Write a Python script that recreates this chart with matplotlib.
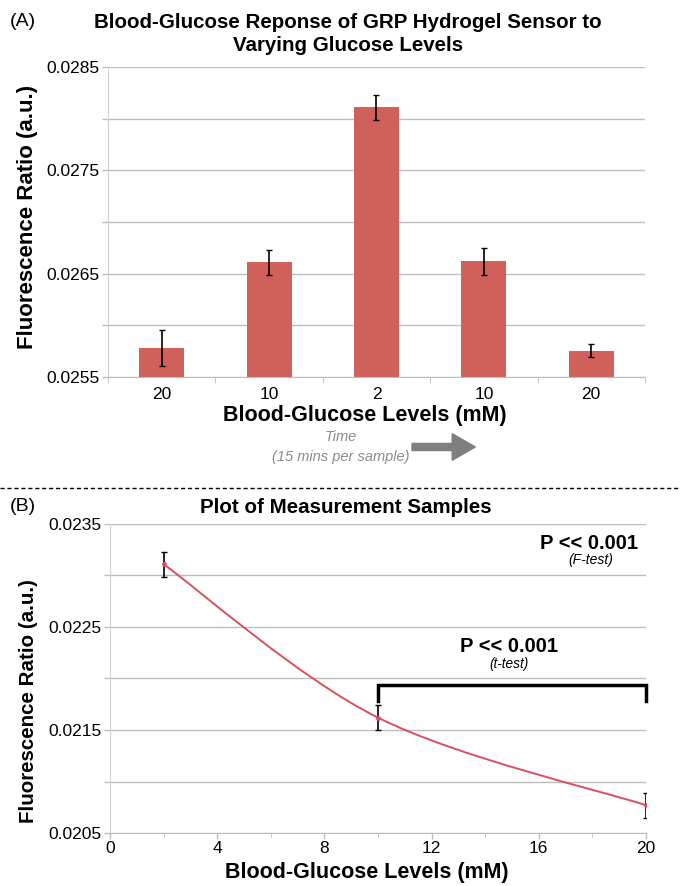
import numpy as np
import matplotlib.pyplot as plt
from matplotlib.path import Path
from matplotlib.patches import PathPatch, FancyArrow
from matplotlib.lines import Line2D

plt.rcParams['font.family'] = ['Liberation Sans', 'DejaVu Sans']

# panel A data
bar_labels = ['20', '10', '2', '10', '20']
bar_values = [0.02578, 0.02661, 0.02811, 0.02662, 0.025755]
bar_errors = [0.00017, 0.00012, 0.00012, 0.00013, 0.00006]

# panel B data
glucose = [2, 10, 20]
ratio = [0.02311, 0.02162, 0.02077]
ratio_err = [0.00012, 0.00012, 0.00012]

BAR = '#d0605a'
LINE = '#d9505e'
GRID = '#bdbdbd'

fig = plt.figure(figsize=(6.81, 8.86), dpi=100)


def style_axes(ax):
    ax.grid(axis='y', color=GRID, lw=1.0)
    ax.set_axisbelow(True)
    for s in ['top', 'right']:
        ax.spines[s].set_visible(False)
    ax.spines['left'].set_color('#d0d0d0')
    ax.spines['bottom'].set_color(GRID)
    ax.tick_params(axis='both', colors=GRID, length=4, width=1,
                   labelcolor='black', labelsize=12.5, pad=2)
    ax.tick_params(axis='y', which='minor', colors=GRID, length=4, width=1)


# ---- (A) bar chart ----
ax1 = fig.add_axes([0.1586, 0.5745, 0.7884, 0.3499])
xpos = np.arange(len(bar_values))
ax1.bar(xpos, bar_values, width=0.42, color=BAR,
        yerr=bar_errors, error_kw=dict(ecolor='black', elinewidth=1.2, capsize=2, capthick=1))
ax1.set_xlim(-0.5, 4.5)
ax1.set_ylim(0.0255, 0.0285)
ax1.set_yticks([0.0255, 0.0265, 0.0275, 0.0285])
ax1.set_yticks(np.arange(0.0255, 0.02851, 0.0005), minor=True)
ax1.set_yticklabels(['0.0255', '0.0265', '0.0275', '0.0285'])
ax1.set_xticks(xpos)
ax1.set_xticklabels(bar_labels)
ax1.set_xticks(np.arange(-0.5, 4.6, 1.0), minor=True)
style_axes(ax1)
ax1.grid(axis='y', which='minor', color=GRID, lw=1.0)
ax1.tick_params(axis='x', which='major', length=0, pad=7)
ax1.tick_params(axis='x', which='minor', colors=GRID, length=4)
ax1.set_xlabel('Blood-Glucose Levels (mM)', fontsize=15.5, fontweight='bold')
ax1.xaxis.set_label_coords(0.479, -0.09)
ax1.set_ylabel('Fluorescence Ratio (a.u.)', fontsize=16, fontweight='bold')
ax1.yaxis.set_label_coords(-0.13, 0.516)
fig.text(0.511, 0.985, 'Blood-Glucose Reponse of GRP Hydrogel Sensor to\nVarying Glucose Levels',
         ha='center', va='top', fontsize=14.8, fontweight='bold', linespacing=1.25)
fig.text(0.015, 0.985, '(A)', ha='left', va='top', fontsize=14)

# time note + arrow
fig.text(0.50, 0.507, 'Time', ha='center', va='center', fontsize=10.5, style='italic', color='#8a8a8a')
fig.text(0.50, 0.484, '(15 mins per sample)', ha='center', va='center', fontsize=10.5,
         style='italic', color='#8a8a8a')
fig.patches.append(FancyArrow(0.605, 0.4955, 0.093, 0, width=0.008, head_width=0.03,
                              head_length=0.034, length_includes_head=True,
                              color='#7f7f7f', transform=fig.transFigure, figure=fig))

# dashed separator
fig.add_artist(Line2D([0.0, 1.0], [0.4495, 0.4495], color='black', lw=1.0,
                      linestyle=(0, (3, 2)), transform=fig.transFigure))

# ---- (B) line chart ----
ax2 = fig.add_axes([0.1615, 0.0598, 0.7871, 0.3488])
ax2.errorbar(glucose, ratio, yerr=ratio_err, fmt='none', ecolor='black',
             elinewidth=1.2, capsize=2, capthick=1, zorder=3)

# smooth curve through the points (Catmull-Rom as Bezier)
pts = np.column_stack([glucose, ratio]).astype(float)
verts = [pts[0]]
codes = [Path.MOVETO]
n = len(pts)
for i in range(n - 1):
    p0 = pts[max(i - 1, 0)]
    p1 = pts[i]
    p2 = pts[i + 1]
    p3 = pts[min(i + 2, n - 1)]
    c1 = p1 + (p2 - p0) / 6.0
    c2 = p2 - (p3 - p1) / 6.0
    verts += [c1, c2, p2]
    codes += [Path.CURVE4] * 3
ax2.add_patch(PathPatch(Path(verts, codes), fill=False, edgecolor=LINE, lw=1.4, zorder=2))
ax2.plot(glucose, ratio, 'o', ms=2.5, color=LINE, zorder=4)

ax2.set_xlim(0, 20)
ax2.set_ylim(0.0205, 0.0235)
ax2.set_xticks([0, 4, 8, 12, 16, 20])
ax2.set_xticks(np.arange(0, 21, 2), minor=True)
ax2.set_yticks([0.0205, 0.0215, 0.0225, 0.0235])
ax2.set_yticklabels(['0.0205', '0.0215', '0.0225', '0.0235'])
ax2.set_yticks(np.arange(0.0205, 0.02351, 0.0005), minor=True)
style_axes(ax2)
ax2.grid(axis='y', which='minor', color=GRID, lw=1.0)
ax2.tick_params(axis='x', which='minor', colors=GRID, length=3)
ax2.set_xlabel('Blood-Glucose Levels (mM)', fontsize=15.5, fontweight='bold')
ax2.xaxis.set_label_coords(0.48, -0.094)
ax2.set_ylabel('Fluorescence Ratio (a.u.)', fontsize=14.8, fontweight='bold')
ax2.yaxis.set_label_coords(-0.134, 0.427)
ax2.set_title('Plot of Measurement Samples', fontsize=14.8, fontweight='bold', pad=8, x=0.44)
fig.text(0.015, 0.438, '(B)', ha='left', va='top', fontsize=14)

# significance annotations
ax2.text(19.7, 0.02331, 'P << 0.001', ha='right', va='center', fontsize=14.5, fontweight='bold')
ax2.text(17.95, 0.02315, '(F-test)', ha='center', va='center', fontsize=10, style='italic')
ax2.text(14.9, 0.02231, 'P << 0.001', ha='center', va='center', fontsize=14.5, fontweight='bold')
ax2.text(14.9, 0.02214, '(t-test)', ha='center', va='center', fontsize=9.8, style='italic')
ax2.plot([10, 10, 20, 20], [0.02178, 0.02194, 0.02194, 0.02178],
         color='black', lw=2.5, solid_joinstyle='miter', clip_on=False)

fig.savefig('out.png', dpi=100)
